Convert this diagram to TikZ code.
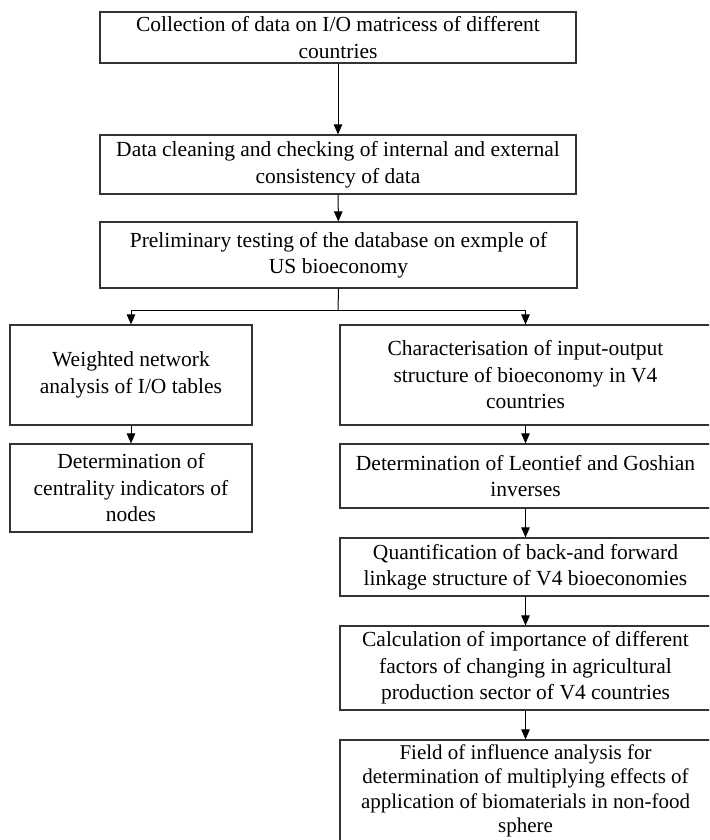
\documentclass[tikz,border=0pt]{standalone}
\usepackage{fontspec}
\setmainfont{Liberation Serif}
\usetikzlibrary{arrows.meta}
\tikzset{
  box/.style={draw=black!80, line width=1.2pt, align=center, inner sep=0pt,
    font=\fontsize{21.5}{26.5}\selectfont},
  txt/.style={align=center, inner sep=0pt, font=\fontsize{21}{24.5}\selectfont},
  arr/.style={draw=black, line width=1pt, -{Triangle[length=10pt,width=8.5pt]}},
  ln/.style={draw=black, line width=1pt}
}
\begin{document}
\begin{tikzpicture}[x=1pt,y=-1pt]
\path[use as bounding box] (0,0) rectangle (709,840);
\clip (0,0) rectangle (709,840);
\fill[white] (0,0) rectangle (709,840);
\node[box, minimum width=476pt, minimum height=51pt] (n1) at (338,37.5)
  {Collection of data on I/O matricess of different\\countries};
\node[box, minimum width=476pt, minimum height=59pt] (n2) at (338,164.5)
  {Data cleaning and checking of internal and external\\consistency of data};
\node[box, minimum width=477pt, minimum height=66pt] (n3) at (338.5,255)
  {Preliminary testing of the database on exmple of\\US bioeconomy};
\node[box, minimum width=242pt, minimum height=100pt] (n4) at (131,375)
  {Weighted network\\analysis of I/O tables};
\node[box, minimum width=371pt, minimum height=100pt] (n5) at (525.5,375)
  {Characterisation of input-output\\structure of bioeconomy in V4\\countries};
\node[box, minimum width=242pt, minimum height=88pt] (n6) at (131,488)
  {Determination of\\centrality indicators of\\nodes};
\node[box, minimum width=371pt, minimum height=64pt] (n7) at (525.5,476)
  {Determination of Leontief and Goshian\\inverses};
\node[box, minimum width=371pt, minimum height=58pt] (n8) at (525.5,567)
  {Quantification of back-and forward\\linkage structure of V4 bioeconomies};
\node[box, minimum width=371pt, minimum height=84pt] (n9) at (525.5,668)
  {Calculation of importance of different\\factors of changing in agricultural\\production sector of V4 countries};
\node[box, minimum width=371pt, minimum height=112pt] (n10) at (525.5,796) {};
\node[txt] (t10) at (525.5,791)
  {Field of influence analysis for\\determination of multiplying effects of\\application of biomaterials in non-food\\sphere};
\coordinate (br) at (338,310);
\draw[arr] (n1) -- (n2);
\draw[arr] (n2) -- (n3);
\draw[ln] (n3.south) -- (br);
\draw[arr] (br) -| (n4.north);
\draw[arr] (br) -| (n5.north);
\draw[arr] (n4) -- (n6);
\draw[arr] (n5) -- (n7);
\draw[arr] (n7) -- (n8);
\draw[arr] (n8) -- (n9);
\draw[arr] (n9) -- (n10);
\end{tikzpicture}
\end{document}
